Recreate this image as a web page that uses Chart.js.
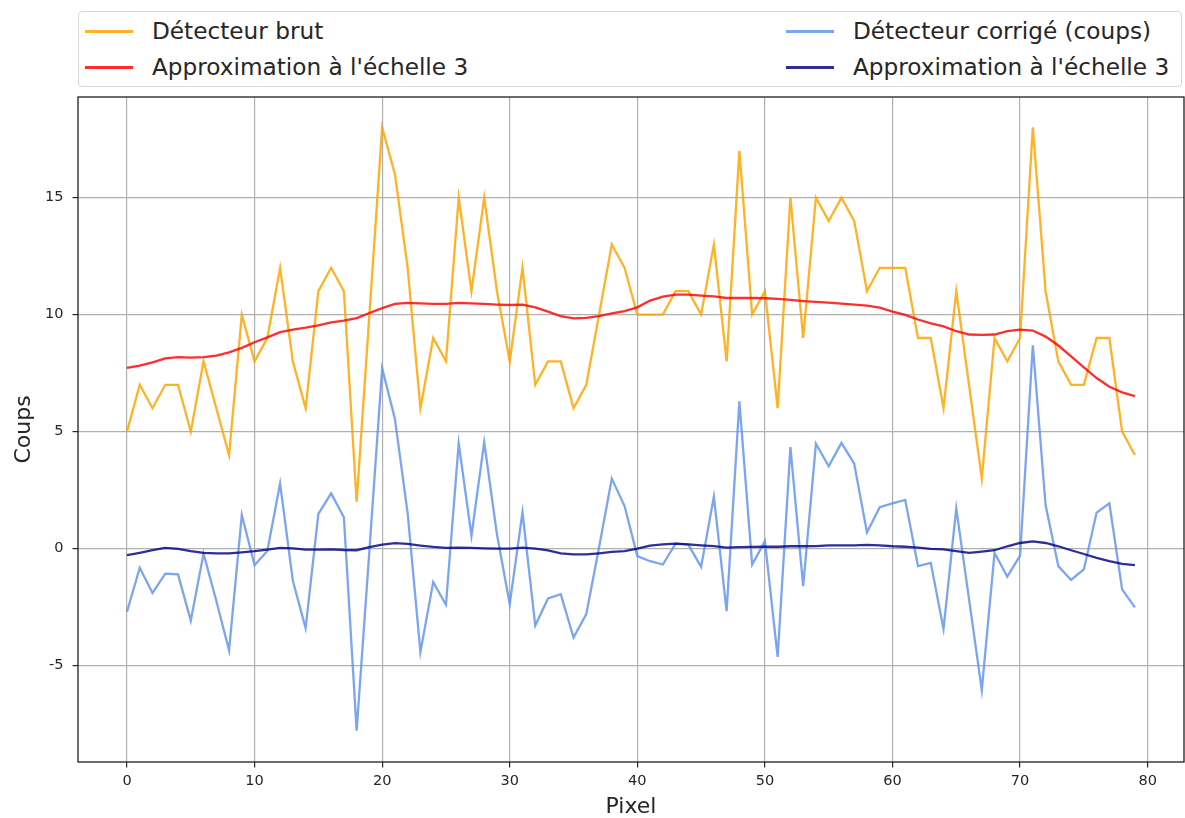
<!DOCTYPE html>
<html lang="fr">
<head>
<meta charset="utf-8">
<title>Détecteur brut et corrigé</title>
<script src="https://cdn.jsdelivr.net/npm/chart.js@4.4.1/dist/chart.umd.min.js"></script>
<style>
  html, body { margin: 0; padding: 0; background: #fff; }
  #wrap { position: relative; width: 1185px; height: 818px; overflow: hidden; }
  #chart { position: absolute; left: 0; top: 0; }
  #legend {
    position: absolute; left: 78px; top: 11px; width: 1104px; height: 76px;
    border: 1px solid #d6d6d6; border-radius: 4px; background: #fff;
    font-family: 'DejaVu Sans', sans-serif; font-size: 23.2px; color: #262626;
    box-sizing: border-box;
  }
  .item { position: absolute; height: 30px; line-height: 30px; white-space: nowrap; }
  .item .swatch { position: absolute; left: 0; top: 14px; width: 48px; height: 2.5px; }
  .item .label { position: absolute; left: 67px; top: 0; }
</style>
</head>
<body>
<div id="wrap">
  <canvas id="chart" width="1185" height="818"></canvas>
  <div id="legend"></div>
</div>
<script>
// Comptes par pixel du détecteur
const rawCounts = [
  5, 7, 6, 7, 7, 5, 8, 6, 4, 10,
  8, 9, 12, 8, 6, 11, 12, 11, 2, 10,
  18, 16, 12, 6, 9, 8, 15, 11, 15, 11,
  8, 12, 7, 8, 8, 6, 7, 10, 13, 12,
  10, 10, 10, 11, 11, 10, 13, 8, 17, 10,
  11, 6, 15, 9, 15, 14, 15, 14, 11, 12,
  12, 12, 9, 9, 6, 11, 7, 3, 9, 8,
  9, 18, 11, 8, 7, 7, 9, 9, 5, 4
];

// Approximation du signal brut à l'échelle 3
const rawApprox = [
  7.72, 7.82, 7.96, 8.13, 8.18, 8.16, 8.18, 8.25, 8.39, 8.58,
  8.82, 9.03, 9.25, 9.36, 9.44, 9.54, 9.67, 9.74, 9.85, 10.07,
  10.28, 10.46, 10.50, 10.48, 10.46, 10.46, 10.50, 10.48, 10.46, 10.43,
  10.41, 10.43, 10.31, 10.13, 9.93, 9.84, 9.86, 9.94, 10.05, 10.15,
  10.31, 10.60, 10.77, 10.85, 10.85, 10.81, 10.78, 10.71, 10.71, 10.71,
  10.70, 10.67, 10.63, 10.58, 10.54, 10.51, 10.47, 10.43, 10.38, 10.30,
  10.13, 9.99, 9.79, 9.63, 9.50, 9.29, 9.15, 9.13, 9.15, 9.29,
  9.36, 9.32, 9.06, 8.68, 8.22, 7.75, 7.29, 6.92, 6.68, 6.52
];

// Détecteur corrigé (coups)
const correctedCounts = [
  -2.70, -0.82, -1.90, -1.07, -1.10, -3.08, -0.21, -2.23, -4.35, 1.44,
  -0.71, -0.10, 2.78, -1.38, -3.40, 1.48, 2.36, 1.34, -7.78, -0.10,
  7.71, 5.54, 1.51, -4.42, -1.43, -2.40, 4.50, 0.55, 4.55, 0.60,
  -2.37, 1.55, -3.29, -2.13, -1.95, -3.80, -2.80, 0.05, 2.99, 1.82,
  -0.32, -0.54, -0.68, 0.21, 0.17, -0.78, 2.22, -2.67, 6.29, -0.68,
  0.31, -4.63, 4.34, -1.60, 4.48, 3.52, 4.52, 3.63, 0.69, 1.77,
  1.93, 2.08, -0.75, -0.61, -3.43, 1.72, -2.16, -6.05, -0.18, -1.20,
  -0.30, 8.69, 1.86, -0.75, -1.34, -0.89, 1.54, 1.94, -1.74, -2.51
];

// Approximation du signal corrigé à l'échelle 3
const correctedApprox = [
  -0.28, -0.18, -0.07, 0.03, -0.01, -0.11, -0.18, -0.20, -0.20, -0.16,
  -0.11, -0.04, 0.03, 0.01, -0.04, -0.04, -0.03, -0.06, -0.07, 0.06,
  0.17, 0.23, 0.20, 0.13, 0.07, 0.03, 0.04, 0.03, 0.01, 0.00,
  0.00, 0.04, 0.00, -0.08, -0.20, -0.25, -0.25, -0.20, -0.14, -0.11,
  0.00, 0.13, 0.18, 0.21, 0.18, 0.14, 0.11, 0.04, 0.06, 0.07,
  0.08, 0.08, 0.10, 0.10, 0.11, 0.14, 0.14, 0.14, 0.16, 0.14,
  0.10, 0.08, 0.04, -0.01, -0.03, -0.11, -0.18, -0.13, -0.07, 0.10,
  0.24, 0.31, 0.24, 0.10, -0.07, -0.23, -0.40, -0.54, -0.65, -0.71
];

const xTickValues = [0, 10, 20, 30, 40, 50, 60, 70, 80];
const yTickValues = [-5, 0, 5, 10, 15];

const seriesNames = [
  'Détecteur brut',
  "Approximation à l'échelle 3",
  'Détecteur corrigé (coups)',
  "Approximation à l'échelle 3"
];
const seriesColors = [
  'rgba(255,165,0,0.85)',
  'rgba(255,0,0,0.82)',
  'rgba(100,149,237,0.85)',
  'rgba(0,0,128,0.82)'
];

const pixelIndex = rawCounts.map((_, i) => i);
const toPoints = (arr) => arr.map((v, i) => ({ x: pixelIndex[i], y: v }));

const seriesValues = [rawCounts, rawApprox, correctedCounts, correctedApprox];

const datasets = seriesValues.map((vals, k) => ({
  label: seriesNames[k],
  data: toPoints(vals),
  borderColor: seriesColors[k],
  backgroundColor: seriesColors[k],
  borderWidth: 2.3,
  pointRadius: 0,
  tension: 0,
  fill: false,
  order: seriesValues.length - k
}));

// Cadre complet autour de la zone de tracé
const frame = {
  id: 'frame',
  afterDatasetsDraw(chart) {
    const { ctx, chartArea: a } = chart;
    ctx.save();
    ctx.strokeStyle = '#1f1f1f';
    ctx.lineWidth = 1.3;
    ctx.strokeRect(a.left, a.top, a.right - a.left, a.bottom - a.top);
    ctx.restore();
  }
};

Chart.defaults.font.family = "'DejaVu Sans', sans-serif";
Chart.defaults.color = '#262626';

const gridStyle = {
  color: 'rgba(176,176,176,1)',
  lineWidth: 1.2,
  drawTicks: true,
  tickLength: 5.5,
  tickColor: '#262626',
  tickWidth: 1.2
};

new Chart(document.getElementById('chart'), {
  type: 'line',
  data: { datasets },
  plugins: [frame],
  options: {
    responsive: false,
    animation: false,
    events: [],
    layout: { padding: { top: 97, right: 1, left: 0, bottom: 0 } },
    plugins: { legend: { display: false }, tooltip: { enabled: false } },
    scales: {
      x: {
        type: 'linear',
        min: -3.84,
        max: 82.85,
        grid: gridStyle,
        border: { display: false },
        afterBuildTicks: (s) => { s.ticks = xTickValues.map(v => ({ value: v })); },
        afterFit: (s) => { s.height = 56; },
        ticks: { font: { size: 14.5 }, padding: 5, maxRotation: 0 },
        title: { display: true, text: 'Pixel', font: { size: 22, lineHeight: 1.0 }, padding: { top: 0, bottom: 0 } }
      },
      y: {
        type: 'linear',
        min: -9.12,
        max: 19.3,
        grid: gridStyle,
        border: { display: false },
        afterBuildTicks: (s) => { s.ticks = yTickValues.map(v => ({ value: v })); },
        afterFit: (s) => { s.width = 78; },
        ticks: { font: { size: 14.5 }, padding: 9 },
        title: { display: true, text: 'Coups', font: { size: 22 }, padding: { top: 11, bottom: 0 } }
      }
    }
  }
});

// Légende sur deux colonnes
const legendSlots = [
  { left: 6, top: 4 },
  { left: 6, top: 40 },
  { left: 707, top: 4 },
  { left: 707, top: 40 }
];
const legendEl = document.getElementById('legend');
seriesNames.forEach((name, k) => {
  const item = document.createElement('div');
  item.className = 'item';
  item.style.left = legendSlots[k].left + 'px';
  item.style.top = legendSlots[k].top + 'px';
  const sw = document.createElement('div');
  sw.className = 'swatch';
  sw.style.background = seriesColors[k];
  const lb = document.createElement('span');
  lb.className = 'label';
  lb.textContent = name;
  item.appendChild(sw);
  item.appendChild(lb);
  legendEl.appendChild(item);
});
</script>
</body>
</html>
